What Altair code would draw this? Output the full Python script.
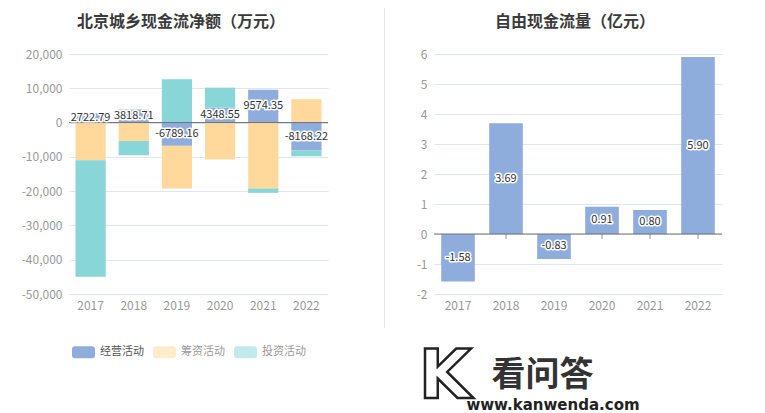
import altair as alt
import pandas as pd

years = ["2017", "2018", "2019", "2020", "2021", "2022"]
series_names = ["经营活动", "筹资活动", "投资活动"]
operating = [2722.79, 3818.71, -6789.16, 4348.55, 9574.35, -8168.22]
financing = [-11000, -5360, -12430, -10770, -19220, 6790]
investing = [-33960, -4160, 12610, 5840, -1280, -1640]
free_cf = [-1.58, 3.69, -0.83, 0.91, 0.80, 5.90]
left_ticks = [-50000, -40000, -30000, -20000, -10000, 0, 10000, 20000]
right_ticks = [-2, -1, 0, 1, 2, 3, 4, 5, 6]
colors = ["#8EADDC", "#FFD99B", "#88D6D8"]
titles = ["北京城乡现金流净额（万元）", "自由现金流量（亿元）"]
watermark = ["看问答", "www.kanwenda.com", "K"]

FONT = "Noto Sans CJK SC"

rows = []
for i, yr in enumerate(years):
    for k, vals in enumerate([operating, financing, investing]):
        rows.append({"year": yr, "series": series_names[k], "value": vals[i], "ord": k})
df_flow = pd.DataFrame(rows)
df_op = pd.DataFrame({"year": years, "value": operating,
                      "label": [f"{v:.2f}" for v in operating]})
df_fcf = pd.DataFrame({"year": years, "value": free_cf,
                       "label": [f"{v:.2f}" for v in free_cf]})
one = pd.DataFrame({"a": [0]})
df_titles = pd.DataFrame({"t": titles})
wm_df = pd.DataFrame({"t": watermark})

x_axis = alt.Axis(title=None, labelAngle=0, domain=False, ticks=False, grid=False,
                  labelPadding=6)
band = alt.Scale(paddingInner=0.3, paddingOuter=0.15)

rounded = ("M-0.74,-0.52 L0.74,-0.52 Q1,-0.52 1,-0.26 L1,0.26 Q1,0.52 0.74,0.52 "
           "L-0.74,0.52 Q-1,0.52 -1,0.26 L-1,-0.26 Q-1,-0.52 -0.74,-0.52 Z")

LABEL_SIZE = 11


def title_mark(idx, xpos):
    return alt.Chart(df_titles).transform_filter(alt.datum.t == titles[idx]).mark_text(
        fontSize=16, fontWeight="bold", font=FONT, color="#3a3a3a",
        baseline="alphabetic", align="center").encode(
        text="t:N", x=alt.value(xpos), y=alt.value(-27))


def value_labels(df, xenc, scale, axis):
    halo = alt.Chart(df).mark_text(fontSize=LABEL_SIZE, font=FONT, stroke="white",
                                   strokeWidth=3, strokeJoin="round", fill="white").encode(
        x=xenc, y=alt.Y("mid:Q", scale=scale, axis=axis), text="label:N"
    ).transform_calculate(mid="datum.value / 2")
    txt = alt.Chart(df).mark_text(fontSize=LABEL_SIZE, font=FONT, color="#333").encode(
        x=xenc, y=alt.Y("mid:Q", scale=scale, axis=axis), text="label:N"
    ).transform_calculate(mid="datum.value / 2")
    return halo, txt


# ---------- left chart ----------
lx = alt.X("year:N", sort=years, scale=band, axis=x_axis)
ly_scale = alt.Scale(domain=[-50000, 20000], nice=False, zero=False)
ly_axis = alt.Axis(values=left_ticks, format=",.0f", title=None, domain=False,
                   ticks=False, labelPadding=7, gridColor="#E0E6F1",
                   labelExpr="replace(datum.label, '−', '-')")

l_ticks = alt.Chart(df_op).mark_tick(orient="vertical", size=5, thickness=1,
                                     yOffset=2.5, color="#6E7079").encode(
    x=lx, y=alt.Y("z:Q", scale=ly_scale, axis=ly_axis)).transform_calculate(z="0")
l_bars = alt.Chart(df_flow).mark_bar().encode(
    x=lx,
    y=alt.Y("value:Q", stack="zero", scale=ly_scale, axis=ly_axis),
    color=alt.Color("series:N", sort=series_names,
                    scale=alt.Scale(domain=series_names, range=colors),
                    legend=alt.Legend(
                        title=None, orient="none", direction="horizontal",
                        legendX=3, legendY=286.5,
                        symbolType=rounded, symbolSize=529, symbolStrokeWidth=0,
                        symbolOpacity=alt.ExprRef("datum.value == '经营活动' ? 1 : 0.5"),
                        labelColor=alt.ExprRef("datum.value == '经营活动' ? '#555' : '#9a9a9a'"),
                        labelFontSize=11, labelFont=FONT, labelOffset=5,
                        columnPadding=9, padding=0)),
    order=alt.Order("ord:Q", sort="ascending"),
)
l_zero = alt.Chart(one).mark_rule(color="#6E7079", strokeWidth=1).encode(
    y=alt.Y("z:Q", scale=ly_scale, axis=ly_axis)).transform_calculate(z="0")
l_halo, l_text = value_labels(df_op, lx, ly_scale, ly_axis)

left = alt.layer(l_ticks, l_bars, l_zero, l_halo, l_text, title_mark(0, 112)).properties(
    width=259, height=240)

# ---------- right chart ----------
rx = alt.X("year:N", sort=years, scale=band, axis=x_axis)
ry_scale = alt.Scale(domain=[-2, 6], nice=False, zero=False)
ry_axis = alt.Axis(values=right_ticks, format=".0f", title=None, domain=False, ticks=False,
                   labelPadding=7, gridColor="#E0E6F1",
                   labelExpr="replace(datum.label, '−', '-')")

r_ticks = alt.Chart(df_fcf).mark_tick(orient="vertical", size=5, thickness=1,
                                      yOffset=2.5, color="#6E7079").encode(
    x=rx, y=alt.Y("z:Q", scale=ry_scale, axis=ry_axis)).transform_calculate(z="0")
r_bars = alt.Chart(df_fcf).mark_bar(color=colors[0]).encode(
    x=rx, y=alt.Y("value:Q", scale=ry_scale, axis=ry_axis))
r_zero = alt.Chart(one).mark_rule(color="#6E7079", strokeWidth=1).encode(
    y=alt.Y("z:Q", scale=ry_scale, axis=ry_axis)).transform_calculate(z="0")
r_halo, r_text = value_labels(df_fcf, rx, ry_scale, ry_axis)

divider = alt.Chart(one).mark_rule(color="#E6E6E6", strokeWidth=1).encode(
    x=alt.value(-49.5), y=alt.value(-46), y2=alt.value(274))

wm_big = alt.Chart(wm_df).transform_filter(alt.datum.t == watermark[0]).mark_text(
    fontSize=34, fontWeight="bold", font=FONT, color="#333").encode(
    text="t:N", x=alt.value(108.5), y=alt.value(322))
wm_url = alt.Chart(wm_df).transform_filter(alt.datum.t == watermark[1]).mark_text(
    fontSize=15, fontWeight="bold", font="DejaVu Sans", color="#222").encode(
    text="t:N", x=alt.value(119), y=alt.value(351))
wm_k = alt.Chart(wm_df).transform_filter(alt.datum.t == watermark[2]).mark_text(
    fontSize=68, fontWeight="bold", font="DejaVu Sans", fill="white", stroke="#222",
    strokeWidth=2.5).encode(
    text="t:N", x=alt.value(11), y=alt.value(324))

right = alt.layer(r_ticks, r_bars, r_zero, r_halo, r_text, divider,
                  wm_k, wm_big, wm_url, title_mark(1, 141)).properties(
    width=288, height=240)

chart = alt.hconcat(left, right, spacing=106, bounds="flush").resolve_scale(
    x="independent", y="independent", color="independent"
).properties(
    autosize=alt.AutoSizeParams(type="none"),
    padding={"left": 61, "top": 46, "right": 680, "bottom": 345},
).configure_view(stroke=None).configure_axis(
    labelFont=FONT, labelFontSize=12, labelColor="#999999"
)

chart.save("out.html", embed_options={"renderer": "svg", "actions": False})
